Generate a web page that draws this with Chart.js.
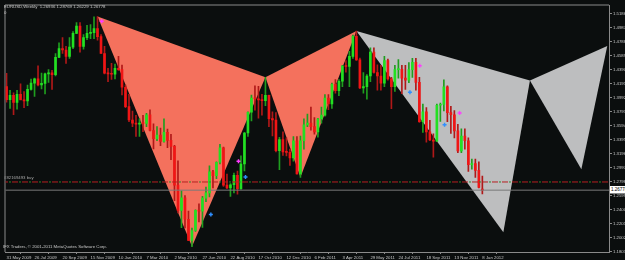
<!DOCTYPE html>
<html><head><meta charset="utf-8">
<script src="https://cdn.jsdelivr.net/npm/chart.js@4.4.1/dist/chart.umd.min.js"></script>
<style>
html,body{margin:0;padding:0;background:#0b0e0e;}
#wrap{position:relative;width:625px;height:260px;overflow:hidden;background:#0b0e0e;}
canvas{display:block;}
.t{position:absolute;font-family:"Liberation Sans",sans-serif;font-size:8.6px;color:#c8c8c8;white-space:nowrap;line-height:10px;transform:scale(0.5);transform-origin:0 0;}
</style></head><body>
<div id="wrap"><canvas id="c" width="625" height="260"></canvas>
<div class="t" style="left:4px;top:4px">EURUSD,Weekly&nbsp; 1.26936 1.28769 1.26229 1.26778</div>
<div class="t" style="left:4px;top:10px">0</div>
<div class="t" style="left:3px;top:244px">IFX Traders, © 2001-2011 MetaQuotes Software Corp.</div>
<div class="t" id="ord" style="left:4px;top:175px;color:#a8a8a8">#82169493 buy</div>
<div class="t" id="bid" style="left:610px;top:185px;background:#fff;color:#000;padding:2px 2px;font-size:9px;line-height:11px;">1.26778</div>
</div>
<script>
// ---- data (weekly EURUSD, week 0 = 31 May 2009) ----
const opens=[1.4150,1.3965,1.4025,1.3925,1.4040,1.3960,1.3945,1.4110,1.4200,1.4260,1.4175,1.4195,1.4330,1.4345,1.4320,1.4565,1.4690,1.4670,1.4580,1.4710,1.4905,1.5010,1.4720,1.4845,1.4905,1.4915,1.4975,1.4860,1.4620,1.4340,1.4330,1.4325,1.4410,1.4390,1.4140,1.3865,1.3675,1.3630,1.3615,1.3630,1.3625,1.3750,1.3525,1.3410,1.3460,1.3370,1.3500,1.3385,1.3300,1.2750,1.2390,1.2570,1.2265,1.1965,1.2105,1.2390,1.2380,1.2565,1.2640,1.2940,1.2885,1.3075,1.3280,1.2750,1.2710,1.2755,1.2890,1.2700,1.3050,1.3490,1.3785,1.3985,1.3975,1.3960,1.3950,1.4025,1.3695,1.3675,1.3240,1.3395,1.3220,1.3215,1.3135,1.3380,1.2910,1.3380,1.3605,1.3630,1.3580,1.3505,1.3690,1.3745,1.3985,1.3905,1.4180,1.4090,1.4225,1.4440,1.4435,1.4580,1.4865,1.4530,1.4130,1.4150,1.4300,1.4640,1.4350,1.4300,1.4200,1.4520,1.4260,1.4150,1.4390,1.4395,1.4270,1.4240,1.4390,1.4495,1.4210,1.3650,1.3790,1.3505,1.3390,1.3375,1.3885,1.3895,1.4145,1.3780,1.3750,1.3520,1.3235,1.3445,1.3380,1.3040,1.3055,1.2960,1.26936];
const highs=[1.4339,1.4095,1.4060,1.4095,1.4190,1.4080,1.4170,1.4255,1.4270,1.4445,1.4340,1.4340,1.4390,1.4380,1.4620,1.4770,1.4845,1.4720,1.4845,1.4930,1.5060,1.5060,1.4890,1.5020,1.5030,1.5140,1.5145,1.4890,1.4720,1.4410,1.4480,1.4470,1.4580,1.4455,1.4170,1.4040,1.3800,1.3740,1.3690,1.3740,1.3770,1.3820,1.3620,1.3580,1.3560,1.3690,1.3545,1.3470,1.3315,1.3095,1.2670,1.2600,1.2380,1.2140,1.2400,1.2485,1.2590,1.2720,1.3025,1.2960,1.3080,1.3330,1.3290,1.2905,1.2770,1.2920,1.2950,1.3165,1.3500,1.3790,1.4030,1.4160,1.4155,1.4040,1.4282,1.4030,1.3790,1.3780,1.3430,1.3505,1.3420,1.3260,1.3440,1.3440,1.3445,1.3690,1.3760,1.3860,1.3710,1.3700,1.3860,1.4035,1.4035,1.4200,1.4250,1.4250,1.4450,1.4520,1.4650,1.4880,1.4940,1.4555,1.4350,1.4320,1.4700,1.4700,1.4460,1.4450,1.4580,1.4540,1.4280,1.4450,1.4535,1.4450,1.4450,1.4490,1.4550,1.4550,1.4280,1.3900,1.3850,1.3670,1.3480,1.3900,1.3915,1.4245,1.4160,1.3870,1.3810,1.3615,1.3550,1.3550,1.3420,1.3120,1.3120,1.3080,1.28769];
const lows=[1.3930,1.3840,1.3750,1.3830,1.3980,1.3850,1.3880,1.4100,1.4010,1.4160,1.4115,1.4045,1.4210,1.4110,1.4300,1.4560,1.4620,1.4480,1.4550,1.4690,1.4900,1.4640,1.4680,1.4815,1.4830,1.4830,1.4810,1.4620,1.4330,1.4220,1.4250,1.4260,1.4380,1.4030,1.3850,1.3650,1.3580,1.3440,1.3440,1.3510,1.3580,1.3520,1.3265,1.3380,1.3310,1.3360,1.3280,1.3110,1.2530,1.2355,1.2145,1.2140,1.1960,1.1876,1.2090,1.2225,1.2150,1.2515,1.2580,1.2710,1.2840,1.3050,1.2730,1.2700,1.2590,1.2640,1.2620,1.2690,1.2950,1.3440,1.3660,1.3815,1.3700,1.3745,1.3880,1.3580,1.3450,1.3220,1.2970,1.3170,1.3165,1.3030,1.3090,1.2905,1.2860,1.3260,1.3580,1.3530,1.3475,1.3430,1.3630,1.3730,1.3820,1.3840,1.4055,1.4020,1.4150,1.4355,1.4150,1.4550,1.4520,1.4120,1.4055,1.3970,1.4220,1.4340,1.4100,1.4100,1.4150,1.4240,1.3835,1.4080,1.4270,1.4050,1.4110,1.4205,1.4280,1.4100,1.3640,1.3500,1.3360,1.3380,1.3145,1.3370,1.3655,1.3805,1.3650,1.3485,1.3420,1.3210,1.3210,1.3260,1.2945,1.2975,1.2860,1.2710,1.26229];
const closes=[1.3965,1.4025,1.3925,1.4040,1.3960,1.3945,1.4110,1.4200,1.4260,1.4175,1.4195,1.4330,1.4345,1.4320,1.4565,1.4690,1.4670,1.4580,1.4710,1.4905,1.5010,1.4720,1.4845,1.4905,1.4915,1.4975,1.4860,1.4620,1.4340,1.4330,1.4325,1.4410,1.4390,1.4140,1.3865,1.3675,1.3630,1.3615,1.3630,1.3625,1.3750,1.3525,1.3410,1.3460,1.3370,1.3500,1.3385,1.3300,1.2750,1.2390,1.2570,1.2265,1.1965,1.2105,1.2390,1.2380,1.2565,1.2640,1.2940,1.2885,1.3075,1.3280,1.2750,1.2710,1.2755,1.2890,1.2700,1.3050,1.3490,1.3785,1.3985,1.3975,1.3960,1.3950,1.4025,1.3695,1.3675,1.3240,1.3395,1.3220,1.3215,1.3135,1.3380,1.2910,1.3380,1.3605,1.3630,1.3580,1.3505,1.3690,1.3745,1.3985,1.3905,1.4180,1.4090,1.4225,1.4440,1.4435,1.4580,1.4865,1.4530,1.4130,1.4150,1.4300,1.4640,1.4350,1.4300,1.4200,1.4520,1.4260,1.4150,1.4390,1.4395,1.4270,1.4240,1.4390,1.4495,1.4210,1.3650,1.3790,1.3505,1.3390,1.3375,1.3885,1.3895,1.4145,1.3780,1.3750,1.3520,1.3235,1.3445,1.3380,1.3040,1.3055,1.2960,1.2715,1.26778];

const dateTickWeeks=[0,8,16,24,32,40,48,56,64,72,80,88,96,104,112,120,128,136];
const dateLabels=['31 May 2009','26 Jul 2009','20 Sep 2009','15 Nov 2009','10 Jan 2010','7 Mar 2010','2 May 2010','27 Jun 2010','22 Aug 2010','17 Oct 2010','12 Dec 2010','6 Feb 2011','3 Apr 2011','29 May 2011','24 Jul 2011','18 Sep 2011','13 Nov 2011','8 Jan 2012'];
const priceTicks=[1.18030,1.20020,1.22010,1.24000,1.25990,1.27980,1.29970,1.31960,1.33950,1.35940,1.37930,1.39920,1.41910,1.43900,1.45890,1.47880,1.49870,1.51860];

// harmonic pattern triangles (week, price)
const redXABWeeks=[26,53,74], redXABPrices=[1.5145,1.1876,1.4282];
const redBCDWeeks=[74,84,100], redBCDPrices=[1.4282,1.2860,1.4940];
const grayXABWeeks=[100,142,149.6], grayXABPrices=[1.4940,1.2079,1.4237];
const grayBCDWeeks=[149.6,164.3,171.7], grayBCDPrices=[1.4237,1.2976,1.4728];

const magentaWeeks=[27.2,66.3,118.1,129.5], magentaPrices=[1.5078,1.3089,1.4447,1.3775];
const blueWeeks=[58.4,68.3,115.3,125.2], bluePrices=[1.2332,1.2864,1.4069,1.3607];

const orderPrice=1.2794;
const bidPrice=1.26778;
const xMin=-0.3, xMax=172.2, yMin=1.1799, yMax=1.5302;

// ---- build ----
const pts=(w,p)=>{const a=w.map((x,i)=>({x:x,y:p[i]}));a.push({x:w[0],y:p[0]});return a;};
const isUp=i=>closes[i]>=opens[i];
const tri=(w,p,col)=>({type:'line',data:pts(w,p),fill:'shape',backgroundColor:col,borderWidth:0,pointRadius:0,tension:0,order:10});
const hline=(p,col,dash,w)=>({type:'line',data:[{x:xMin-1,y:p},{x:xMax+1,y:p}],borderColor:col,borderWidth:w,borderDash:dash,pointRadius:0,fill:false,order:0});

Chart.defaults.font.family='"Liberation Sans", sans-serif';
Chart.defaults.font.size=4.3;
Chart.defaults.color='#c8c8c8';

const frame={id:'frame',beforeDraw(c){const ctx=c.ctx,a=c.chartArea;ctx.save();ctx.fillStyle='#0b0e0e';ctx.fillRect(0,0,c.width,c.height);ctx.strokeStyle='#8a8a8a';ctx.lineWidth=1;ctx.beginPath();ctx.moveTo(a.left-0.5,a.bottom);ctx.lineTo(a.left-0.5,a.top-0.5);ctx.lineTo(a.right,a.top-0.5);ctx.stroke();ctx.restore();},
 afterRender(c){const y=c.scales.y;document.getElementById('bid').style.top=(y.getPixelForValue(bidPrice)-4)+'px';document.getElementById('ord').style.top=(y.getPixelForValue(orderPrice)-6.5)+'px';}};

new Chart(document.getElementById('c'),{
 type:'bar',
 data:{datasets:[
  tri(redXABWeeks,redXABPrices,'#f4715d'),
  tri(redBCDWeeks,redBCDPrices,'#f4715d'),
  tri(grayXABWeeks,grayXABPrices,'#bdbebf'),
  tri(grayBCDWeeks,grayBCDPrices,'#bdbebf'),
  {type:'bar',data:opens.map((o,i)=>({x:i,y:[lows[i],highs[i]]})),backgroundColor:opens.map((o,i)=>isUp(i)?'#1f9e1f':'#b01818'),barThickness:1,grouped:false,borderWidth:0,order:3},
  {type:'bar',data:opens.map((o,i)=>({x:i,y:[o,closes[i]]})),backgroundColor:opens.map((o,i)=>isUp(i)?'#22e022':'#f01515'),barThickness:2,grouped:false,borderWidth:0,minBarLength:1,order:2},
  hline(bidPrice,'#7a7a7a',[],1),
  hline(orderPrice,'#b52020',[6,4],1),
  hline(orderPrice,'#2e8a2e',[0,7,2,1],1),
  {type:'scatter',data:magentaWeeks.map((w,i)=>({x:w,y:magentaPrices[i]})),pointStyle:'cross',pointRadius:2,borderColor:'#ff3cff',borderWidth:1.5,order:1},
  {type:'scatter',data:blueWeeks.map((w,i)=>({x:w,y:bluePrices[i]})),pointStyle:'cross',pointRadius:2,borderColor:'#2f8fff',borderWidth:1.5,order:1}
 ]},
 options:{
  responsive:false,animation:false,devicePixelRatio:1,
  layout:{padding:{left:2,top:2,right:0,bottom:0}},
  plugins:{legend:{display:false},tooltip:{enabled:false},title:{display:false}},
  scales:{
   x:{type:'linear',min:xMin,max:xMax,offset:false,
      grid:{display:true,drawOnChartArea:false,drawTicks:true,tickLength:2,color:'#8a8a8a'},
      border:{display:true,color:'#8a8a8a'},
      afterBuildTicks(s){s.ticks=dateTickWeeks.map(v=>({value:v}));},
      afterFit(s){s.height=8;},
      ticks:{autoSkip:false,maxRotation:0,align:'start',padding:1,color:'#c8c8c8',font:{size:4.3},callback:(v,i)=>dateLabels[i]}},
   y:{type:'linear',position:'right',min:yMin,max:yMax,
      grid:{display:true,drawOnChartArea:false,drawTicks:true,tickLength:3,color:'#8a8a8a'},
      border:{display:true,color:'#8a8a8a'},
      afterBuildTicks(s){s.ticks=priceTicks.map(v=>({value:v}));},
      afterFit(s){s.width=16;},
      ticks:{autoSkip:false,padding:1,color:'#c8c8c8',font:{size:4.3},callback:v=>Number(v).toFixed(5)}}
  }
 },
 plugins:[frame]
});
</script>
</body></html>
